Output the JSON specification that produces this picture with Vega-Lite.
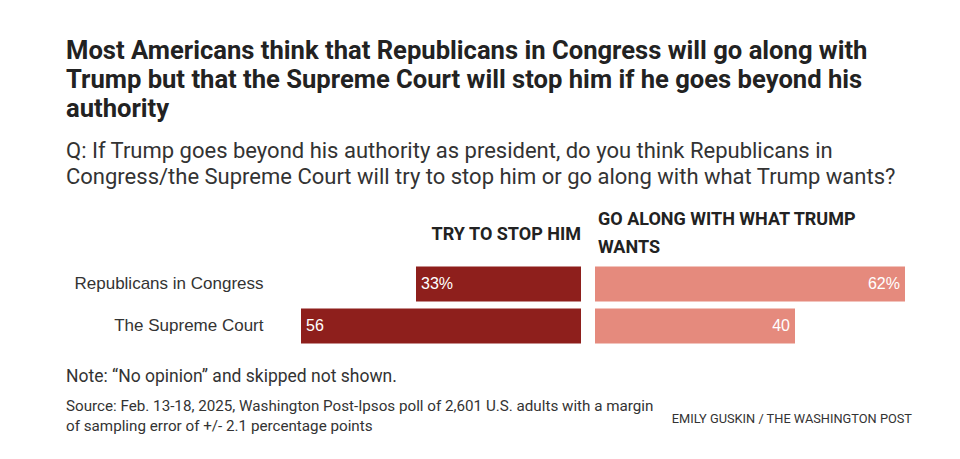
{
  "$schema": "https://vega.github.io/schema/vega-lite/v6.json",
  "padding": {"left": 66, "top": 39, "right": 40, "bottom": 10},
  "background": "white",
  "title": {
    "text": ["Most Americans think that Republicans in Congress will go along with", "Trump but that the Supreme Court will stop him if he goes beyond his", "authority"],
    "subtitle": ["Q: If Trump goes beyond his authority as president, do you think Republicans in", "Congress/the Supreme Court will try to stop him or go along with what Trump wants?"],
    "anchor": "start",
    "frame": "bounds",
    "font": "Roboto",
    "fontSize": 25.6,
    "fontWeight": "bold",
    "color": "#222222",
    "lineHeight": 29,
    "subtitleFont": "Roboto",
    "subtitleFontSize": 22,
    "subtitleColor": "#333333",
    "subtitleLineHeight": 26,
    "subtitlePadding": 18,
    "offset": 23
  },
  "datasets": {
    "poll": [
      {"group": "Republicans in Congress", "stop": 33, "stopLabel": "33%", "along": 62, "alongLabel": "62%"},
      {"group": "The Supreme Court", "stop": 56, "stopLabel": "56", "along": 40, "alongLabel": "40"}
    ]
  },
  "vconcat": [
    {
      "hconcat": [
        {
          "width": 300,
          "height": 84,
          "data": {"name": "poll"},
          "title": {"text": "TRY TO STOP HIM", "anchor": "end", "font": "Roboto", "fontSize": 18, "fontWeight": "bold", "color": "#222222", "offset": 19},
          "encoding": {
            "y": {"field": "group", "type": "nominal", "sort": null,
                  "scale": {"paddingInner": 0.167, "paddingOuter": 0.083},
                  "axis": {"title": null, "ticks": false, "domain": false, "labelPadding": 18, "labelLimit": 300, "labelFont": "Liberation Sans", "labelFontSize": 17, "labelColor": "#333333"}},
            "x": {"field": "stop", "type": "quantitative", "scale": {"domain": [0, 60], "reverse": true}, "axis": null}
          },
          "layer": [
            {"mark": {"type": "bar", "color": "#8E1F1C"}},
            {"mark": {"type": "text", "align": "left", "dx": 5, "color": "white", "font": "Liberation Sans", "fontSize": 16},
             "encoding": {"text": {"field": "stopLabel"}}}
          ]
        },
        {
          "width": 310,
          "height": 84,
          "data": {"name": "poll"},
          "title": {"text": ["GO ALONG WITH WHAT TRUMP", "WANTS"], "anchor": "start", "font": "Roboto", "fontSize": 18, "fontWeight": "bold", "color": "#222222", "lineHeight": 28, "offset": 6, "dx": 3},
          "encoding": {
            "y": {"field": "group", "type": "nominal", "sort": null,
                  "scale": {"paddingInner": 0.167, "paddingOuter": 0.083}, "axis": null},
            "x": {"field": "along", "type": "quantitative", "scale": {"domain": [0, 62]}, "axis": null}
          },
          "layer": [
            {"mark": {"type": "bar", "color": "#E58A7D"}},
            {"mark": {"type": "text", "align": "right", "dx": -5, "color": "white", "font": "Liberation Sans", "fontSize": 16},
             "encoding": {"text": {"field": "alongLabel"}}}
          ]
        }
      ],
      "spacing": 14
    },
    {
      "hconcat": [
        {
          "width": 381,
          "height": 1,
          "data": {"values": []},
          "mark": {"type": "rule"},
          "encoding": {},
          "title": {
            "text": "Note: “No opinion” and skipped not shown.",
            "subtitle": ["Source: Feb. 13-18, 2025, Washington Post-Ipsos poll of 2,601 U.S. adults with a margin", "of sampling error of +/- 2.1 percentage points"],
            "anchor": "start", "dx": -215, "font": "Roboto", "fontSize": 17.5, "fontWeight": "normal", "color": "#333333",
            "subtitleFont": "Roboto", "subtitleFontSize": 15.2, "subtitleColor": "#333333", "subtitleLineHeight": 19.5, "subtitlePadding": 14
          }
        },
        {
          "width": 240,
          "height": 1,
          "data": {"values": []},
          "mark": {"type": "rule"},
          "encoding": {},
          "title": {"text": "EMILY GUSKIN / THE WASHINGTON POST", "anchor": "end", "font": "Roboto", "fontSize": 12.8, "fontWeight": "normal", "color": "#333333", "offset": 12}
        }
      ],
      "bounds": "flush",
      "spacing": 10
    }
  ],
  "spacing": 20,
  "config": {"view": {"stroke": null}}
}
